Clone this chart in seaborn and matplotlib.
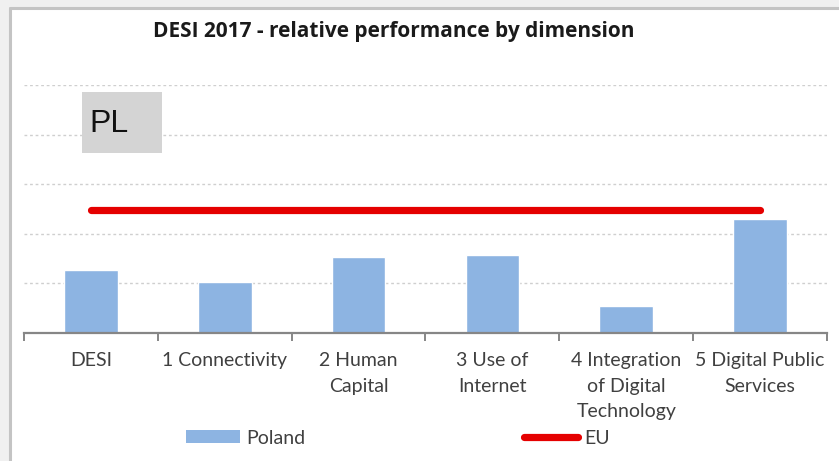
import matplotlib
matplotlib.use("Agg")
import matplotlib.pyplot as plt
from matplotlib.patches import Rectangle, Patch
from matplotlib.lines import Line2D
import seaborn as sns
import pandas as pd

# DESI 2017 relative performance by dimension: Poland vs EU
dimensions = ["DESI", "1 Connectivity", "2 Human\nCapital", "3 Use of\nInternet",
              "4 Integration\nof Digital\nTechnology", "5 Digital Public\nServices"]
poland = [1.27, 1.03, 1.53, 1.57, 0.54, 2.29]
eu = [2.48, 2.48, 2.48, 2.48, 2.48, 2.48]
country_tag = "PL"
title = "DESI 2017 - relative performance by dimension"

sns.set_theme(style="white")
plt.rcParams["font.family"] = ["Lato", "DejaVu Sans"]

W, H = 839, 461
fig = plt.figure(figsize=(W / 100, H / 100), dpi=100)
fig.patch.set_facecolor("#f0f0f0")

def fx(px):
    return px / W

def fy(py):
    return 1 - py / H

# white chart panel with a grey frame on the left and top
fig.add_artist(Rectangle((fx(11), 0), 1 - fx(11), fy(10), transform=fig.transFigure,
                         facecolor="white", edgecolor="none", zorder=0))
fig.add_artist(Line2D([fx(9.5), fx(9.5)], [0, fy(8.5)], transform=fig.transFigure,
                      color="#c4c4c4", lw=2.2, zorder=1))
fig.add_artist(Line2D([fx(9.5), 1], [fy(8.5), fy(8.5)], transform=fig.transFigure,
                      color="#c4c4c4", lw=2.2, zorder=1))

ax = fig.add_axes([fx(24), fy(333), fx(827) - fx(24), fy(85) - fy(333)])
ax.set_facecolor("none")

df = pd.DataFrame({"dimension": dimensions, "score": poland, "eu": eu})
sns.barplot(data=df, x="dimension", y="score", color="#8db4e2", saturation=1,
            width=0.4, ax=ax, zorder=2)
ax.plot(range(len(dimensions)), df["eu"], color="#e50000", lw=5.2,
        solid_capstyle="round", zorder=3)

ax.set_xlim(-0.5, len(dimensions) - 0.5)
ax.set_ylim(0, 5)
ax.set_yticks([1, 2, 3, 4, 5])
ax.set_yticklabels([])
ax.tick_params(axis="y", length=0)
ax.yaxis.grid(True, color="#cfcfcf", lw=1.0, linestyle=(0, (2, 2)))
ax.set_axisbelow(True)
ax.set_xlabel("")
ax.set_ylabel("")
for side in ["top", "left", "right"]:
    ax.spines[side].set_visible(False)
ax.spines["bottom"].set_color("#868686")
ax.spines["bottom"].set_linewidth(1.6)

ax.set_xticks([i - 0.5 for i in range(len(dimensions) + 1)], minor=True)
ax.tick_params(axis="x", which="minor", length=6, width=1.4, color="#868686",
               direction="out", bottom=True)
ax.tick_params(axis="x", which="major", length=0, pad=14)
ax.set_xticks(range(len(dimensions)))
ax.set_xticklabels(dimensions, fontsize=14, color="#404040", linespacing=1.6,
                   va="top")

fig.text(fx(394), fy(31), title, ha="center", va="center", fontsize=15,
         fontweight="bold", color="#1a1a1a", family=["Open Sans", "DejaVu Sans"])

# country tag box
fig.add_artist(Rectangle((fx(82), fy(153)), fx(162) - fx(82), fy(92) - fy(153),
                         transform=fig.transFigure, facecolor="#d4d4d4",
                         edgecolor="none", zorder=4))
fig.text(fx(89), fy(124), country_tag, ha="left", va="center", fontsize=23,
         family=["Liberation Sans", "DejaVu Sans"], color="#111111", zorder=5)

handles = [Patch(facecolor="#8db4e2", edgecolor="none", label="Poland"),
           Line2D([], [], color="#e50000", lw=5.2, label="EU")]
fig.legend(handles=handles, loc="center left", bbox_to_anchor=(fx(176), fy(438)),
           ncol=2, frameon=False, fontsize=14, handlelength=2.78, handleheight=0.62,
           handletextpad=0.31, columnspacing=11.25, labelcolor="#404040",
           borderaxespad=0, borderpad=0.5)

fig.savefig("out.png", dpi=100, facecolor=fig.get_facecolor())
